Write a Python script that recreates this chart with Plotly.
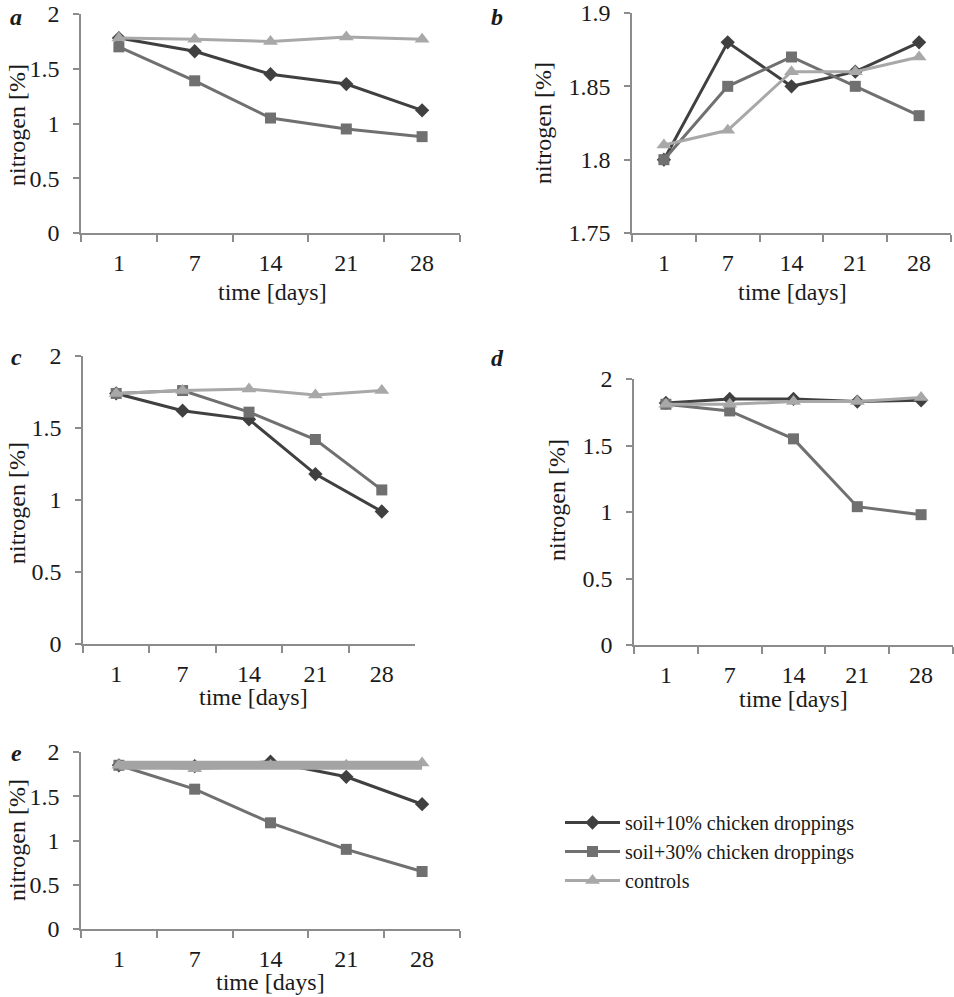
import plotly.graph_objects as go

days = ["1", "7", "14", "21", "28"]
series_names = ["soil+10% chicken droppings", "soil+30% chicken droppings", "controls"]

a_10 = [1.78, 1.66, 1.45, 1.36, 1.12]
a_30 = [1.70, 1.39, 1.05, 0.95, 0.88]
a_ctrl = [1.78, 1.77, 1.75, 1.79, 1.77]

b_10 = [1.80, 1.88, 1.85, 1.86, 1.88]
b_30 = [1.80, 1.85, 1.87, 1.85, 1.83]
b_ctrl = [1.81, 1.82, 1.86, 1.86, 1.87]

c_10 = [1.74, 1.62, 1.56, 1.18, 0.92]
c_30 = [1.74, 1.76, 1.61, 1.42, 1.07]
c_ctrl = [1.74, 1.76, 1.77, 1.73, 1.76]

d_10 = [1.82, 1.85, 1.85, 1.83, 1.84]
d_30 = [1.81, 1.76, 1.55, 1.04, 0.98]
d_ctrl = [1.81, 1.81, 1.83, 1.83, 1.86]

e_10 = [1.85, 1.84, 1.89, 1.72, 1.41]
e_30 = [1.85, 1.58, 1.20, 0.90, 0.65]
e_ctrl = [1.85, 1.81, 1.85, 1.85, 1.875]
e_band = [1.85, 1.85, 1.85, 1.85, 1.85]

panel_labels = ["a", "b", "c", "d", "e"]
x_title = "time [days]"
y_title = "nitrogen [%]"

W, H = 954, 997
FONT = "Liberation Serif, Times New Roman, serif"
TXT = "#1a1a1a"
AX = "#8c8c8c"
colors = ["#404040", "#707070", "#a8a8a8"]
symbols = ["diamond", "square", "triangle-up"]
msizes = [11, 11, 13]

# panel boxes in page pixels: (left, right, top, bottom)
boxes = [
    (81, 460, 14, 233),
    (632, 951, 13, 233),
    (83, 415, 356, 644),
    (634, 953, 379, 645),
    (81, 460, 752, 929),
]
yranges = [[0, 2], [1.75, 1.9], [0, 2], [0, 2], [0, 2]]
dticks = [0.5, 0.05, 0.5, 0.5, 0.5]
data = [
    (a_10, a_30, a_ctrl),
    (b_10, b_30, b_ctrl),
    (c_10, c_30, c_ctrl),
    (d_10, d_30, d_ctrl),
    (e_10, e_30, e_ctrl),
]

fig = go.Figure()
layout = dict(
    width=W, height=H,
    margin=dict(l=0, r=0, t=0, b=0, autoexpand=False),
    paper_bgcolor="white", plot_bgcolor="white",
    font=dict(family=FONT, size=23, color=TXT),
    showlegend=True,
)
annotations = []


def px(x):
    return x / W


def py(y):
    return 1 - y / H


for i, (box, yr, dt, series) in enumerate(zip(boxes, yranges, dticks, data)):
    n = "" if i == 0 else str(i + 1)
    xa, ya = "x" + n, "y" + n
    l, r, t, b = box
    for k, vals in enumerate(series):
        fig.add_trace(go.Scatter(
            x=days, y=vals, xaxis=xa, yaxis=ya,
            mode="lines+markers", name=series_names[k],
            line=dict(color=colors[k], width=3),
            marker=dict(symbol=symbols[k], size=msizes[k], color=colors[k]),
            showlegend=(i == 0), legendgroup=series_names[k],
            cliponaxis=False,
        ))
    if i == 4:
        fig.add_trace(go.Scatter(
            x=days, y=e_band, xaxis=xa, yaxis=ya, mode="lines",
            line=dict(color="#a4a4a4", width=9), showlegend=False,
            hoverinfo="skip", cliponaxis=False,
        ))
    layout["xaxis" + n] = dict(
        domain=[px(l), min(px(r), 1)], anchor=ya, type="category",
        range=[-0.5, 4.5], showline=True, linecolor=AX, linewidth=1.5,
        ticks="outside", tickson="boundaries", ticklen=7, tickcolor=AX,
        tickwidth=1.5, showgrid=False, zeroline=False, automargin=False,
        ticklabelstandoff=7, tickfont=dict(size=24, color=TXT),
    )
    layout["yaxis" + n] = dict(
        domain=[py(b), py(t)], anchor=xa, range=yr, dtick=dt,
        tick0=yr[0], showline=True, linecolor=AX, linewidth=1.5,
        ticks="outside", ticklen=6, tickcolor=AX, tickwidth=1.5,
        showgrid=False, zeroline=False, ticklabelstandoff=9, automargin=False,
        tickfont=dict(size=24, color=TXT),
    )

# axis titles and panel letters (page pixels)
xt = [(272, 292), (792, 292), (253, 697), (793, 699), (270, 982)]
yt = [(17, 125), (543, 123), (17, 503), (557, 500), (17, 840)]
pl = [(16, 17), (497, 17), (16, 357), (497, 358), (16, 753)]
for i in range(5):
    annotations.append(dict(x=px(xt[i][0]), y=py(xt[i][1]), xref="paper", yref="paper",
                            text=x_title, showarrow=False, xanchor="center", yanchor="middle",
                            font=dict(size=24, color=TXT)))
    annotations.append(dict(x=px(yt[i][0]), y=py(yt[i][1]), xref="paper", yref="paper",
                            text=y_title, showarrow=False, textangle=-90,
                            xanchor="center", yanchor="middle",
                            font=dict(size=24, color=TXT)))
    annotations.append(dict(x=px(pl[i][0]), y=py(pl[i][1]), xref="paper", yref="paper",
                            text="<b><i>" + panel_labels[i] + "</i></b>", showarrow=False,
                            xanchor="center", yanchor="middle",
                            font=dict(size=24, color=TXT)))

layout["annotations"] = annotations
layout["legend"] = dict(
    x=px(560), y=py(803), xanchor="left", yanchor="top",
    bgcolor="rgba(0,0,0,0)", font=dict(size=20, color=TXT),
    tracegroupgap=0, itemwidth=55,
)
fig.update_layout(**layout)
fig.write_html("out.html",
               config={"displayModeBar": False},
               post_script="document.body.style.margin='0';document.body.style.overflow='hidden';")
